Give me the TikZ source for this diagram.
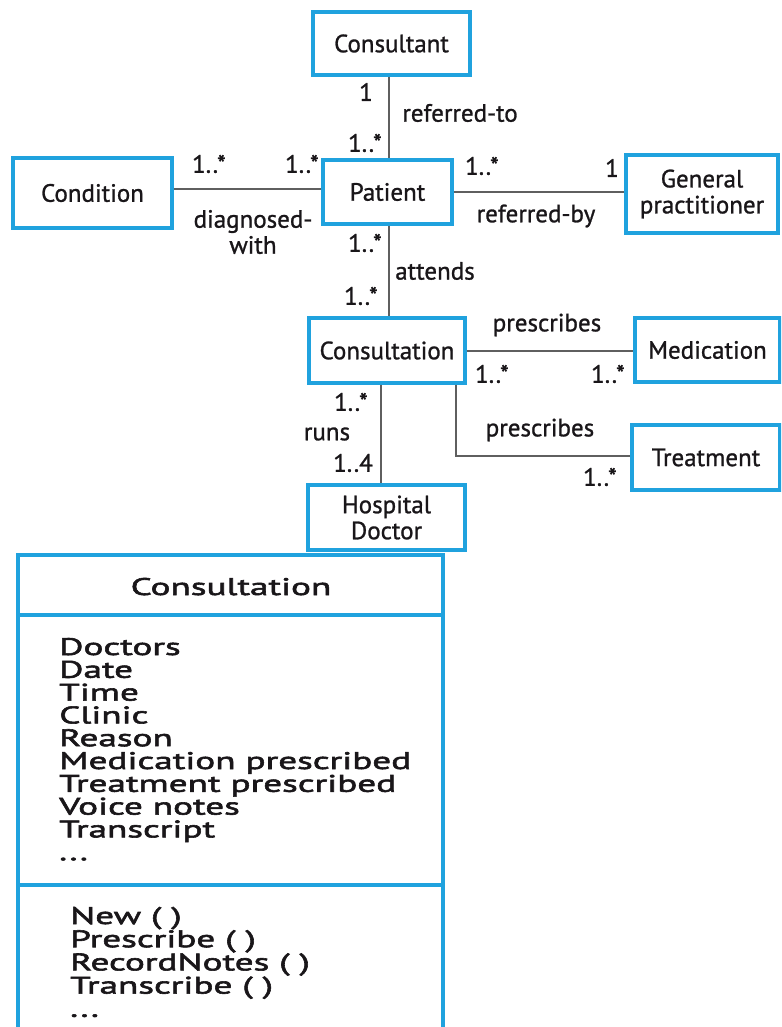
\documentclass[tikz,border=0pt]{standalone}
\usepackage{fontspec}
\setmainfont[FakeBold=1]{PT Sans}
\newfontfamily\classfont[FakeStretch=1.55,FakeBold=2.4]{PT Sans}
\newcommand\lblfont{\fontsize{25}{26}\selectfont}
\newcommand\membfont{\classfont\fontsize{24}{23}\selectfont}
\definecolor{boxblue}{RGB}{32,162,222}
\definecolor{linegrey}{RGB}{95,95,95}
\definecolor{ink}{RGB}{25,22,25}
\begin{document}
\begin{tikzpicture}[x=1pt,y=-1pt,
  cls/.style={draw=boxblue, line width=3.2pt, fill=white, inner sep=0pt,
              font=\lblfont, text=ink, align=center},
  link/.style={draw=linegrey, line width=1.8pt},
  lbl/.style={font=\lblfont, text=ink, inner sep=0pt, align=center},
  memb/.style={font=\membfont, text=ink, inner sep=0pt, anchor=base west},
  frame/.style={draw=boxblue, line width=3.2pt}]
\useasboundingbox (0,0) rectangle (781,1027);
\clip (0,0) rectangle (781,1027);
\fill[white] (0,0) rectangle (781,1027);

% classes of the domain model
\node[cls, minimum width=157pt, minimum height=63pt] (consultant) at (391.5,43.5) {Consultant};
\node[cls, minimum width=159pt, minimum height=70pt] (condition) at (92.5,193) {Condition};
\node[cls, minimum width=129pt, minimum height=64pt] (patient) at (387.5,192) {Patient};
\node[cls, minimum width=152pt, minimum height=78pt] (gp) at (702,194) {General\\practitioner};
\node[cls, minimum width=156pt, minimum height=65pt] (consult) at (387,350.5) {Consultation};
\node[cls, minimum width=145pt, minimum height=64pt] (medication) at (707.5,350) {Medication};
\node[cls, minimum width=148pt, minimum height=65pt] (treatment) at (706,457.5) {Treatment};
\node[cls, minimum width=157pt, minimum height=65pt] (doctor) at (386.5,517.5) {Hospital\\Doctor};

% associations
\coordinate (xa) at (389,0);
\coordinate (xb) at (381,0);
\coordinate (ya) at (0,189);
\coordinate (yb) at (0,192);
\coordinate (yc) at (0,351);
\coordinate (bend) at (456,456);
\draw[link] (xa |- consultant.south) -- (xa |- patient.north);
\draw[link] (condition.east |- ya) -- (patient.west |- ya);
\draw[link] (patient.east |- yb) -- (gp.west |- yb);
\draw[link] (xa |- patient.south) -- (xa |- consult.north);
\draw[link] (consult.east |- yc) -- (medication.west |- yc);
\draw[link] (xb |- consult.south) -- (xb |- doctor.north);
\draw[link] (bend |- consult.south) -- (bend) -- (treatment.west |- bend);

% association names and multiplicities
\node[lbl] (m1) at (366,92) {1};
\node[lbl] (reft) at (460,113) {referred-to};
\node[lbl] (m2) at (365,143) {1..*};
\node[lbl] (m3) at (209,164) {1..*};
\node[lbl] (m4) at (302,164) {1..*};
\node[lbl] (diag) at (253,232) {diagnosed-\\with};
\node[lbl] (m5) at (482,166) {1..*};
\node[lbl] (m6) at (612,168) {1};
\node[lbl] (refb) at (536,216) {referred-by};
\node[lbl] (m7) at (365,243) {1..*};
\node[lbl] (att) at (435,271) {attends};
\node[lbl] (m8) at (361,296) {1..*};
\node[lbl] (presc1) at (547,325) {prescribes};
\node[lbl] (m9) at (492,374) {1..*};
\node[lbl] (m10) at (608,374) {1..*};
\node[lbl] (m11) at (351,402) {1..*};
\node[lbl] (runs) at (327,434) {runs};
\node[lbl] (m12) at (353,463) {1..4};
\node[lbl] (presc2) at (540,430) {prescribes};
\node[lbl] (m13) at (600,477) {1..*};

% detailed Consultation class
\draw[frame, fill=white] (18,555) rectangle (443,1045);
\draw[frame] (18,615) -- (443,615);
\draw[frame] (18,885) -- (443,885);
\node[font=\membfont, text=ink, inner sep=0pt, anchor=base] (title) at (231,595) {Consultation};
\node[memb] (attr1) at (59,655) {Doctors};
\node[memb] (attr2) at (59,677.8) {Date};
\node[memb] (attr3) at (59,700.6) {Time};
\node[memb] (attr4) at (59,723.4) {Clinic};
\node[memb] (attr5) at (59,746.2) {Reason};
\node[memb] (attr6) at (59,769) {Medication prescribed};
\node[memb] (attr7) at (59,791.8) {Treatment prescribed};
\node[memb] (attr8) at (59,814.6) {Voice notes};
\node[memb] (attr9) at (59,837.4) {Transcript};
\node[memb] (attr10) at (59,860.2) {...};
\node[memb] (op1) at (70,924) {New ( )};
\node[memb] (op2) at (70,947.2) {Prescribe ( )};
\node[memb] (op3) at (70,970.4) {RecordNotes ( )};
\node[memb] (op4) at (70,993.6) {Transcribe ( )};
\node[memb] (op5) at (70,1016.8) {...};
\end{tikzpicture}
\end{document}
